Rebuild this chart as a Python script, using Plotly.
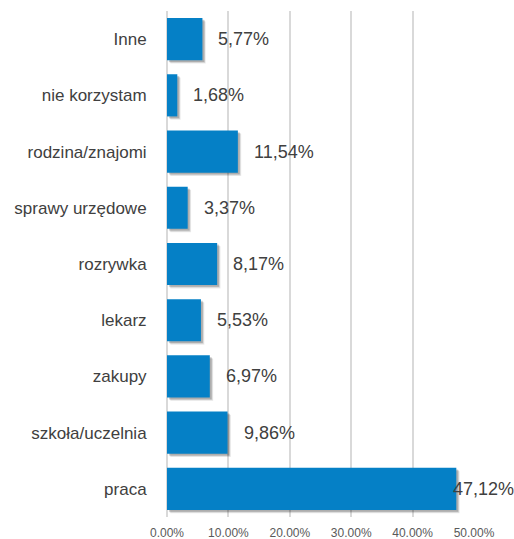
import plotly.graph_objects as go

# Purposes of use (bottom to top as drawn) and their shares in percent
categories = ["praca", "szkoła/uczelnia", "zakupy", "lekarz", "rozrywka",
              "sprawy urzędowe", "rodzina/znajomi", "nie korzystam", "Inne"]
values = [47.12, 9.86, 6.97, 5.53, 8.17, 3.37, 11.54, 1.68, 5.77]
tick_vals = [0, 10, 20, 30, 40, 50]
tick_text = ["0.00%", "10.00%", "20.00%", "30.00%", "40.00%", "50.00%"]

FONT = "Liberation Sans Narrow, Arial Narrow, Liberation Sans, Arial, sans-serif"
BAR = "#0580C6"
TEXT = "#404040"
N = len(categories)

fig = go.Figure()

# invisible copy on the base axes so they carry the category scale
fig.add_trace(go.Bar(
    x=values, y=categories, orientation="h", width=0.75,
    marker=dict(color="rgba(0,0,0,0)", line=dict(width=0)),
    hoverinfo="skip", showlegend=False,
))

# soft drop shadow: translucent copies of the bars on slightly shifted axes
shadow_layers = [(0.55, -0.06, 0.08), (0.42, -0.045, 0.12), (0.30, -0.03, 0.16)]
for i, (dx, dy, a) in enumerate(shadow_layers):
    k = i + 2
    fig.add_trace(go.Bar(
        x=values, y=categories, orientation="h", width=0.75,
        marker=dict(color=f"rgba(0,0,0,{a})", line=dict(width=0)),
        xaxis=f"x{k}", yaxis=f"y{k}", hoverinfo="skip", showlegend=False,
    ))
    fig.layout[f"xaxis{k}"] = dict(range=[-dx, 50 - dx], overlaying="x", visible=False)
    fig.layout[f"yaxis{k}"] = dict(range=[-0.5 - dy, N - 0.5 - dy], overlaying="y",
                                   visible=False, categoryorder="array",
                                   categoryarray=categories)

# main bars on an unshifted overlay so they sit above the shadows
kb = len(shadow_layers) + 2
fig.add_trace(go.Bar(
    x=values, y=categories, orientation="h", width=0.75,
    marker=dict(color=BAR, line=dict(width=0)),
    xaxis=f"x{kb}", yaxis=f"y{kb}", showlegend=False,
))
fig.layout[f"xaxis{kb}"] = dict(range=[0, 50], overlaying="x", visible=False)
fig.layout[f"yaxis{kb}"] = dict(range=[-0.5, N - 0.5], overlaying="y", visible=False,
                                categoryorder="array", categoryarray=categories)

# value labels in Polish number format
for c, v in zip(categories, values):
    fig.add_annotation(
        x=v, y=c, xref="x", yref="y",
        text=f"{v:.2f}%".replace(".", ","),
        showarrow=False, xanchor="left", yanchor="middle",
        xshift=14 if v < 45 else -5,
        font=dict(family=FONT, size=18, color=TEXT),
    )

fig.update_layout(
    width=514, height=539,
    margin=dict(l=167, r=40, t=11, b=22),
    paper_bgcolor="white", plot_bgcolor="white",
    font=dict(family=FONT, color=TEXT),
    xaxis=dict(
        range=[0, 50], tickvals=tick_vals, ticktext=tick_text,
        showgrid=True, gridcolor="#D9D9D9", gridwidth=1.5,
        zeroline=True, zerolinecolor="#D9D9D9", zerolinewidth=1.5,
        showline=False, ticks="outside", ticklen=5, tickcolor="rgba(0,0,0,0)",
        tickfont=dict(family=FONT, size=12, color="#595959"),
        automargin=False,
    ),
    yaxis=dict(
        categoryorder="array", categoryarray=categories,
        range=[-0.5, N - 0.5],
        showgrid=False, zeroline=False, showline=False,
        ticks="outside", ticklen=16, tickcolor="rgba(0,0,0,0)",
        tickfont=dict(family=FONT, size=17, color=TEXT),
        automargin=False,
    ),
)

fig.write_html("out.html")
